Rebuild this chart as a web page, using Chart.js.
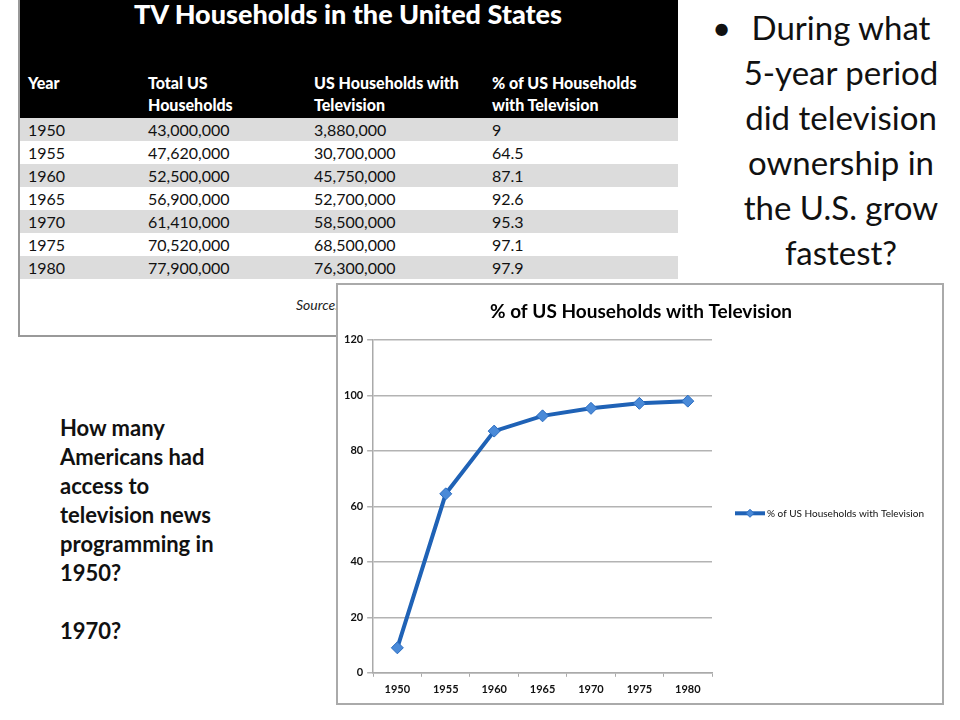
<!DOCTYPE html>
<html>
<head>
<meta charset="utf-8">
<script src="https://cdn.jsdelivr.net/npm/chart.js@4.4.0/dist/chart.umd.min.js"></script>
<style>
  body { margin: 0; width: 960px; height: 720px; background: #fff; position: relative; overflow: hidden; font-family: Lato, "Open Sans", sans-serif; }
  #tbl { position: absolute; left: 18px; top: 0; width: 658px; height: 335px; border-left: 2px solid #999; border-bottom: 2px solid #999; background: #fff; }
  #tblHead { position: absolute; left: 0; top: 0; width: 658px; height: 118px; background: #000; color: #fff; }
  #tblTitle { position: absolute; left: 0; width: 656px; top: -3px; text-align: center; font-weight: 900; font-size: 27px; }
  .hc { position: absolute; top: 72px; font-weight: 900; font-size: 16px; line-height: 22px; }
  #rows { position: absolute; left: 0; top: 118px; width: 658px; }
  .row { height: 23px; position: relative; font-size: 16px; color: #111; }
  .row.g { background: #dcdcdc; }
  .row span { position: absolute; top: 2px; }
  #source { position: absolute; left: 276px; top: 296px; font-style: italic; font-size: 14px; color: #222; }
  #bullet { position: absolute; left: 698px; top: 5px; width: 262px; font-family: Lato, sans-serif; font-size: 33px; line-height: 45px; color: #111; }
  #bullet .dot { position: absolute; left: 14px; top: 0; }
  #bullet .txt { position: absolute; left: 25px; width: 236px; text-align: center; }
  #question { position: absolute; left: 60px; top: 413px; font-weight: bold; font-size: 22px; line-height: 29px; color: #111; }
  #chartBox { position: absolute; left: 336px; top: 283px; width: 604px; height: 418px; border: 2px solid #aaa; background: #fff; }
  #chartBox canvas { position: absolute; left: 0; top: 0; }
</style>
</head>
<body>
<div id="tbl">
  <div id="tblHead">
    <div id="tblTitle">TV Households in the United States</div>
    <div class="hc" style="left:8px">Year</div>
    <div class="hc" style="left:128px">Total US<br>Households</div>
    <div class="hc" style="left:294px">US Households with<br>Television</div>
    <div class="hc" style="left:472px">% of US Households<br>with Television</div>
  </div>
  <div id="rows"></div>
  <div id="source">Source: Television Bureau of Advertising</div>
</div>

<div id="bullet">
  <span class="dot">•</span>
  <div class="txt">During what<br>5-year period<br>did television<br>ownership in<br>the U.S. grow<br>fastest?</div>
</div>

<div id="question">How many<br>Americans had<br>access to<br>television news<br>programming in<br>1950?<br><br>1970?</div>

<div id="chartBox"><canvas id="c" width="604" height="418"></canvas></div>

<script>
// datos de la tabla y del gráfico
const years = ['1950', '1955', '1960', '1965', '1970', '1975', '1980'];
const totalHouseholds = ['43,000,000', '47,620,000', '52,500,000', '56,900,000', '61,410,000', '70,520,000', '77,900,000'];
const tvHouseholds = ['3,880,000', '30,700,000', '45,750,000', '52,700,000', '58,500,000', '68,500,000', '76,300,000'];
const pctWithTv = [9, 64.5, 87.1, 92.6, 95.3, 97.1, 97.9];
const yTicks = [0, 20, 40, 60, 80, 100, 120];

// filas de la tabla
const rowsEl = document.getElementById('rows');
years.forEach((y, i) => {
    const r = document.createElement('div');
    r.className = 'row' + (i % 2 === 0 ? ' g' : '');
    r.innerHTML = '<span style="left:8px">' + y + '</span>' +
        '<span style="left:128px">' + totalHouseholds[i] + '</span>' +
        '<span style="left:294px">' + tvHouseholds[i] + '</span>' +
        '<span style="left:472px">' + pctWithTv[i] + '</span>';
    rowsEl.appendChild(r);
});

// leyenda a la derecha (la de Chart.js se recorta en vertical)
const sideLegend = {
    id: 'sideLegend',
    afterDraw(chart) {
        const c = chart.ctx;
        const ds = chart.data.datasets[0];
        const x0 = chart.chartArea.right + 23;
        const y0 = (chart.chartArea.top + chart.chartArea.bottom) / 2 + 7;
        c.save();
        c.strokeStyle = ds.borderColor;
        c.lineWidth = 4;
        c.beginPath();
        c.moveTo(x0, y0);
        c.lineTo(x0 + 30, y0);
        c.stroke();
        c.fillStyle = ds.pointBackgroundColor;
        c.strokeStyle = ds.pointBorderColor;
        c.lineWidth = 1;
        c.beginPath();
        c.moveTo(x0 + 15, y0 - 4);
        c.lineTo(x0 + 19, y0);
        c.lineTo(x0 + 15, y0 + 4);
        c.lineTo(x0 + 11, y0);
        c.closePath();
        c.fill();
        c.stroke();
        c.fillStyle = '#111';
        c.font = '10px Lato';
        c.textBaseline = 'middle';
        c.fillText(ds.label, x0 + 32, y0);
        c.restore();
    }
};

const ctx = document.getElementById('c');
new Chart(ctx, {
    type: 'line',
    data: {
        labels: years,
        datasets: [{
            label: '% of US Households with Television',
            data: pctWithTv,
            borderColor: '#1f62b6',
            backgroundColor: '#1f62b6',
            borderWidth: 4,
            tension: 0,
            pointStyle: 'rectRot',
            pointRadius: 6,
            pointBackgroundColor: '#4a8ad8',
            pointBorderColor: '#2a6cc0',
            pointBorderWidth: 1
        }]
    },
    options: {
        responsive: false,
        animation: false,
        layout: { padding: { left: 2, right: 0, top: 0, bottom: 1 } },
        plugins: {
            title: {
                display: true,
                text: '% of US Households with Television',
                color: '#000',
                font: { family: 'Lato', size: 19, weight: 'bold' },
                padding: { top: 15, bottom: 17 }
            },
            legend: { display: false },
            tooltip: { enabled: false }
        },
        scales: {
            x: {
                offset: true,
                grid: { display: true, drawOnChartArea: false, drawTicks: true, tickLength: 4, color: '#aaa', offset: true },
                border: { color: '#aaa', width: 1.5 },
                ticks: { color: '#111', font: { family: 'Lato', size: 11, weight: 'bold' }, padding: 6 }
            },
            y: {
                min: 0,
                max: 120,
                afterBuildTicks: axis => { axis.ticks = yTicks.map(v => ({ value: v })); },
                grid: { color: '#b3b3b3', lineWidth: 1.5, tickLength: 6 },
                border: { color: '#aaa', width: 1.5 },
                ticks: { color: '#111', font: { family: 'Lato', size: 11, weight: 'bold' }, padding: 4 }
            },
            // eje vacío que deja sitio para la leyenda
            legendSpace: {
                type: 'linear',
                position: 'right',
                grid: { display: false },
                border: { display: false },
                ticks: { display: false },
                afterFit: axis => { axis.width = 230; }
            }
        }
    },
    plugins: [sideLegend]
});
</script>
</body>
</html>
